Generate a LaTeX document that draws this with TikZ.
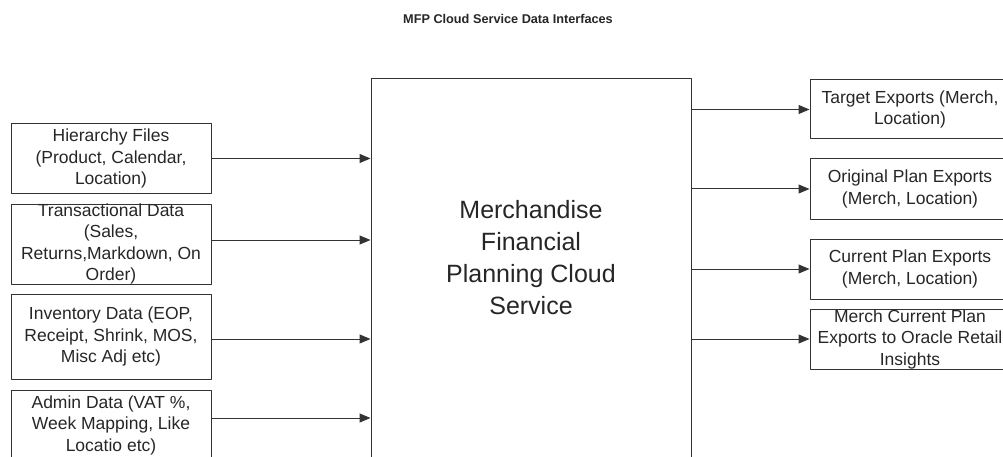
\documentclass[tikz,border=0pt]{standalone}
\usepackage{fontspec}
\setmainfont{Liberation Sans}
\usetikzlibrary{arrows.meta}
\begin{document}
\begin{tikzpicture}[x=1pt, y=-1pt, line join=round, >={Triangle[length=11pt,width=9pt]},
  box/.style={draw=black!80, line width=1pt, minimum width=200pt, inner xsep=0pt, inner ysep=-4pt, align=center, text=black!85, font=\fontsize{17.5}{21.5}\selectfont},
  link/.style={->, draw=black!80, line width=1pt}]
\def \xmax{1003};
\def \ymax{457};
\useasboundingbox (0,0) rectangle (\xmax,\ymax);
\clip (0,0) rectangle (\xmax,\ymax);
\node[text=black!85, font=\bfseries\fontsize{12.7}{15}\selectfont] (title) at (508,19) {MFP Cloud Service Data Interfaces};
\node[draw=black!80, line width=1pt, minimum width=320pt, minimum height=400pt] (mfp) at (531,279) {};
\node[align=center, text=black!85, font=\fontsize{25}{32}\selectfont] (mfptext) at (531,258) {Merchandise\\Financial\\Planning Cloud\\Service};
\node[box, minimum height=69pt] (hier) at (111,158.5) {Hierarchy Files\\(Product, Calendar,\\Location)};
\node[box, minimum height=80pt] (trans) at (111,244) {Transactional Data\\(Sales,\\Returns,Markdown, On\\Order)};
\node[box, minimum height=85pt] (inv) at (111,336.5) {Inventory Data (EOP,\\Receipt, Shrink, MOS,\\Misc Adj etc)};
\node[box, minimum height=70pt] (admin) at (111,425) {Admin Data (VAT \%,\\Week Mapping, Like\\Locatio etc)};
\node[box, minimum height=59pt] (target) at (910,109.5) {Target Exports (Merch,\\Location)};
\node[box, minimum height=60pt] (orig) at (910,189) {Original Plan Exports\\(Merch, Location)};
\node[box, minimum height=60pt] (curr) at (910,269) {Current Plan Exports\\(Merch, Location)};
\node[box, minimum height=60pt] (insights) at (910,339) {Merch Current Plan\\Exports to Oracle Retail\\Insights};
\draw[link] (hier.east) -- (hier.east -| mfp.west);
\draw[link] ([yshift=4pt]trans.east) -- ([yshift=4pt]trans.east -| mfp.west);
\draw[link] ([yshift=-2.5pt]inv.east) -- ([yshift=-2.5pt]inv.east -| mfp.west);
\draw[link] ([yshift=7pt]admin.east) -- ([yshift=7pt]admin.east -| mfp.west);
\draw[link] (target.west -| mfp.east) -- (target.west);
\draw[link] (orig.west -| mfp.east) -- (orig.west);
\draw[link] (curr.west -| mfp.east) -- (curr.west);
\draw[link] (insights.west -| mfp.east) -- (insights.west);
\end{tikzpicture}
\end{document}
